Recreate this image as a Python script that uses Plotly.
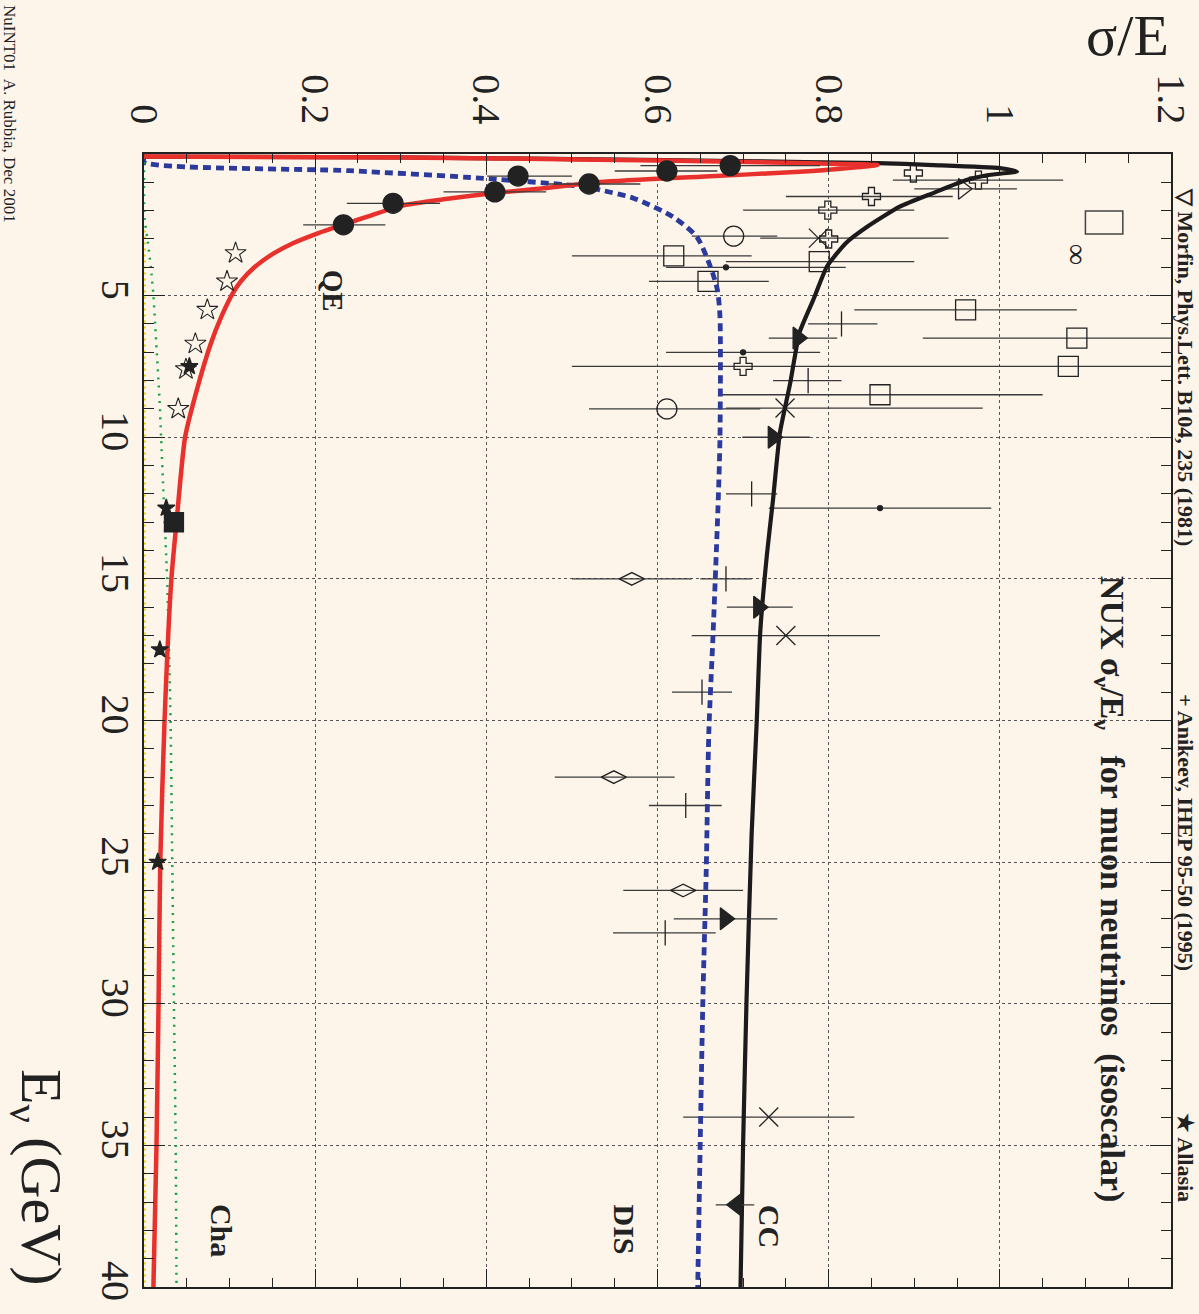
import plotly.graph_objects as go

# ---------------- curves (E in GeV, sigma/E) ----------------
qe_E   = [0.09, 0.12, 0.20, 0.27, 0.33, 0.39, 0.50, 0.63, 0.80, 0.99, 1.20, 1.38, 1.60, 1.83, 2.20, 2.50, 2.80, 3.15, 3.50, 4.0, 4.5, 4.9, 5.7, 6.7, 8.3, 10, 13, 15, 20, 25, 30, 35, 40]
qe_sig = [0.0, 0.30, 0.53, 0.69, 0.78, 0.857, 0.82, 0.766, 0.65, 0.533, 0.47, 0.41, 0.35, 0.30, 0.262, 0.232, 0.203, 0.174, 0.152, 0.129, 0.113, 0.104, 0.091, 0.078, 0.062, 0.048, 0.038, 0.032, 0.024, 0.019, 0.017, 0.0146, 0.011]

cc_E   = [0.09, 0.12, 0.19, 0.25, 0.32, 0.39, 0.50, 0.62, 0.75, 0.92, 1.38, 1.86, 2.57, 3.15, 3.97, 5.15, 6.3, 8.1, 9.85, 12.2, 14.1, 16.9, 20, 24, 29.9, 35, 40]
cc_sig = [0.0, 0.30, 0.53, 0.69, 0.857, 0.922, 1.0, 1.02, 0.985, 0.961, 0.922, 0.883, 0.845, 0.82, 0.798, 0.782, 0.766, 0.755, 0.743, 0.735, 0.728, 0.72, 0.716, 0.71, 0.704, 0.70, 0.697]

dis_E   = [0.10, 0.29, 0.59, 0.86, 1.15, 1.27, 1.56, 2.22, 2.93, 3.99, 4.8, 5.75, 10, 12.2, 16.9, 20.4, 25.2, 29.9, 40]
dis_sig = [0.0, 0.0, 0.24, 0.397, 0.513, 0.533, 0.572, 0.618, 0.646, 0.662, 0.67, 0.673, 0.673, 0.671, 0.665, 0.66, 0.657, 0.653, 0.647]

cha_E   = [0, 2.3, 3, 4, 5, 6, 8.6, 10, 12.2, 15, 20, 25, 30, 35, 40]
cha_sig = [0, 0.0008, 0.004, 0.008, 0.011, 0.013, 0.018, 0.020, 0.023, 0.027, 0.031, 0.033, 0.035, 0.037, 0.038]

oth_E   = [2.7, 40]
oth_sig = [0.001, 0.001]

# ---------------- data points ----------------
# QE data (filled circles)
qed_E   = [0.41, 0.60, 0.78, 1.06, 1.34, 1.74, 2.50]
qed_sig = [0.685, 0.611, 0.437, 0.52, 0.41, 0.291, 0.233]
qed_lo  = [0.58, 0.55, 0.401, 0.47, 0.35, 0.237, 0.186]
qed_hi  = [0.79, 0.67, 0.50, 0.58, 0.47, 0.346, 0.282]

# filled square
fsq_E, fsq_sig = [13.0], [0.035]
# filled stars (Allasia)
fst_E   = [7.5, 12.5, 17.5, 25.0]
fst_sig = [0.053, 0.026, 0.0185, 0.016]
# open stars
ost_E   = [3.5, 4.5, 5.5, 6.7, 7.6, 9.0]
ost_sig = [0.107, 0.097, 0.074, 0.060, 0.049, 0.040]

# CC filled triangles
tri_E   = [6.5, 10.0, 16.0, 27.0]
tri_sig = [0.764, 0.735, 0.718, 0.679]
tri_lo  = [0.73, 0.699, 0.681, 0.619]
tri_hi  = [0.81, 0.778, 0.758, 0.740]
trd_E, trd_sig, trd_lo, trd_hi = [37.1], [0.692], [0.668], [0.713]

# crosses (x)
xx_E   = [2.97, 8.97, 17.0, 34.0]
xx_sig = [0.788, 0.749, 0.750, 0.730]
xx_lo  = [0.72, 0.68, 0.64, 0.63]
xx_hi  = [0.94, 0.98, 0.86, 0.83]

# open circles
oc_E   = [2.9, 9.0]
oc_sig = [0.689, 0.611]
oc_lo  = [0.64, 0.52]
oc_hi  = [0.74, 0.72]

# open squares
osq_E   = [3.6, 4.5, 3.8, 5.5, 6.5, 7.5, 8.5]
osq_sig = [0.619, 0.659, 0.789, 0.96, 1.09, 1.08, 0.86]
osq_lo  = [0.50, 0.59, 0.68, 0.83, 0.91, 0.50, 0.675]
osq_hi  = [0.71, 0.73, 0.90, 1.09, 1.25, 1.25, 1.05]

# open crosses (+ outline)
ocr_E   = [0.67, 0.92, 1.5, 1.98, 3.0, 7.5]
ocr_sig = [0.899, 0.975, 0.85, 0.799, 0.80, 0.70]
ocr_lo  = [0.899, 0.875, 0.75, 0.70, 0.80, 0.70]
ocr_hi  = [0.899, 1.074, 0.945, 0.90, 0.80, 0.70]

# open triangle (Morfin)
otr_E, otr_sig, otr_lo, otr_hi = [1.23], [0.957], [0.90], [1.02]

# open diamonds
dia_E   = [15.0, 22.0, 26.0]
dia_sig = [0.57, 0.549, 0.63]
dia_lo  = [0.50, 0.48, 0.56]
dia_hi  = [0.64, 0.62, 0.70]

# plus (Anikeev)
pl_E   = [6.0, 8.0, 12.0, 15.0, 19.0, 23.0, 27.5]
pl_sig = [0.815, 0.776, 0.71, 0.68, 0.652, 0.633, 0.609]
pl_lo  = [0.776, 0.735, 0.68, 0.65, 0.617, 0.59, 0.548]
pl_hi  = [0.857, 0.815, 0.74, 0.71, 0.687, 0.675, 0.668]

# small dots
dot_E   = [4.0, 7.0, 12.5]
dot_sig = [0.68, 0.70, 0.86]
dot_lo  = [0.61, 0.61, 0.73]
dot_hi  = [0.82, 0.79, 0.99]

# tick labels
x_ticks = [0, 0.2, 0.4, 0.6, 0.8, 1.0, 1.2]
x_labels = ["0", "0.2", "0.4", "0.6", "0.8", "1", "1.2"]
y_ticks = [5, 10, 15, 20, 25, 30, 35, 40]
y_labels = ["5", "10", "15", "20", "25", "30", "35", "40"]

BG = "#fdf5ea"
INK = "#222222"
FONT = "Liberation Serif"

fig = go.Figure()


def pts(E, s, lo=None, hi=None, symbol="circle", size=20, color=INK, lw=1.3):
    err = None
    if lo is not None:
        err = dict(type="data", symmetric=False,
                   array=[h - v for h, v in zip(hi, s)],
                   arrayminus=[v - l for v, l in zip(s, lo)],
                   color="#3a3a3a", thickness=1.3, width=0)
    fig.add_trace(go.Scatter(x=s, y=E, mode="markers",
                             marker=dict(symbol=symbol, size=size, color=color,
                                         line=dict(color=color, width=lw)),
                             error_x=err, hoverinfo="skip"))


def curve(E, s, color, width, dash="solid", smooth=0.7):
    fig.add_trace(go.Scatter(x=s, y=E, mode="lines",
                             line=dict(color=color, width=width, dash=dash,
                                       shape="spline", smoothing=smooth),
                             hoverinfo="skip"))


# other experiments' data
pts(osq_E, osq_sig, osq_lo, osq_hi, "square-open", 20)
pts(oc_E, oc_sig, oc_lo, oc_hi, "circle-open", 20)
pts(xx_E, xx_sig, xx_lo, xx_hi, "x-thin-open", 19)
pts(ocr_E, ocr_sig, ocr_lo, ocr_hi, "cross-open", 15)
pts(otr_E, otr_sig, otr_lo, otr_hi, "triangle-right-open", 18)
pts(dia_E, dia_sig, dia_lo, dia_hi, "diamond-wide-open", 18)
pts(pl_E, pl_sig, pl_lo, pl_hi, "line-ns-open", 18)
pts(dot_E, dot_sig, dot_lo, dot_hi, "circle", 5)

# curves
curve(cc_E, cc_sig, "#1c1a1a", 4.2, smooth=0.5)
curve(dis_E, dis_sig, "#2b3a9c", 4.8, "8px,5px")
curve(cha_E, cha_sig, "#16a34a", 2.5, "2px,6px")
curve(oth_E, oth_sig, "#e6d200", 2.0, "2px,4px")
curve(qe_E, qe_sig, "#e8302c", 4.5, smooth=0.6)

# CC triangles on the curve
pts(tri_E, tri_sig, tri_lo, tri_hi, "triangle-right", 19)
pts(trd_E, trd_sig, trd_lo, trd_hi, "triangle-left", 19)

# QE data and low-sigma points
pts(qed_E, qed_sig, qed_lo, qed_hi, "circle", 20)
pts(fsq_E, fsq_sig, symbol="square", size=19)
pts(ost_E, ost_sig, symbol="star-open", size=16, lw=1.1)
pts(fst_E, fst_sig, symbol="star", size=13)


def pxx(px):
    return (px - 144) / 1027


def pxy(py):
    return 1 - (py - 154) / 1133


ann = []


def note(text, x, y, size, angle=90, data=False, bold=False):
    t = f"<b>{text}</b>" if bold else text
    ref_x, ref_y = ("x", "y") if data else ("paper", "paper")
    ann.append(dict(text=t, x=x, y=y, xref=ref_x, yref=ref_y, showarrow=False,
                    textangle=angle, xanchor="center", yanchor="middle",
                    font=dict(family=FONT, size=size, color=INK)))


note("σ/E", pxx(1127), pxy(35), 58, angle=0)
note("E<sub>ν</sub> (GeV)", pxx(38), pxy(1177), 58)
note("▽ Morfin, Phys.Lett. B104, 235 (1981)", pxx(1186), pxy(367), 22, bold=True)
note("+ Anikeev, IHEP 95-50 (1995)", pxx(1186), pxy(832), 22, bold=True)
note("★ Allasia", pxx(1186), pxy(1157), 22, bold=True)
note("NuINT01&nbsp; A. Rubbia, Dec 2001", pxx(9), pxy(114), 17)

note("NUX σ<sub>ν</sub>/E<sub>ν</sub>&nbsp;&nbsp; for muon neutrinos&nbsp; (isoscalar)", 1.1296, 25.97, 34, data=True, bold=True)
note("QE", 0.221, 4.83, 29, data=True, bold=True)
note("CC", 0.731, 37.86, 30, data=True, bold=True)
note("DIS", 0.562, 37.97, 30, data=True, bold=True)
note("Cha", 0.0905, 38.0, 30, data=True, bold=True)
note("∞", 1.0905, 3.53, 30, data=True)

fig.add_shape(type="rect", xref="x", yref="y", x0=1.100, x1=1.1437, y0=2.01, y1=2.82,
              line=dict(color="#444", width=1.5))

axis_common = dict(showline=True, linecolor=INK, linewidth=1.5, mirror="ticks",
                   ticks="inside", tickcolor=INK, tickwidth=1.2,
                   showgrid=True, gridcolor="#555555", griddash="dot", gridwidth=1,
                   zeroline=False, tickangle=90, automargin=False, tickmode="array",
                   tickfont=dict(family=FONT, size=40, color=INK))

fig.update_layout(
    width=1199, height=1314,
    margin=dict(l=144, r=28, t=154, b=27, autoexpand=False),
    paper_bgcolor=BG, plot_bgcolor=BG, showlegend=False,
    font=dict(family=FONT, color=INK),
    annotations=ann,
    xaxis=dict(range=[0, 1.2], side="top", tickvals=x_ticks, ticktext=x_labels,
               ticklen=18, ticklabelstandoff=14,
               minor=dict(tick0=0, dtick=0.05, ticks="inside", ticklen=9,
                          tickcolor=INK, tickwidth=1.2, showgrid=False),
               **axis_common),
    yaxis=dict(range=[40, 0], tickvals=y_ticks, ticktext=y_labels,
               ticklen=21, ticklabelstandoff=-8,
               minor=dict(tick0=0, dtick=1, ticks="inside",
                          ticklen=10, tickcolor=INK, tickwidth=1.2, showgrid=False),
               **axis_common),
)

fig.write_html("out.html")
